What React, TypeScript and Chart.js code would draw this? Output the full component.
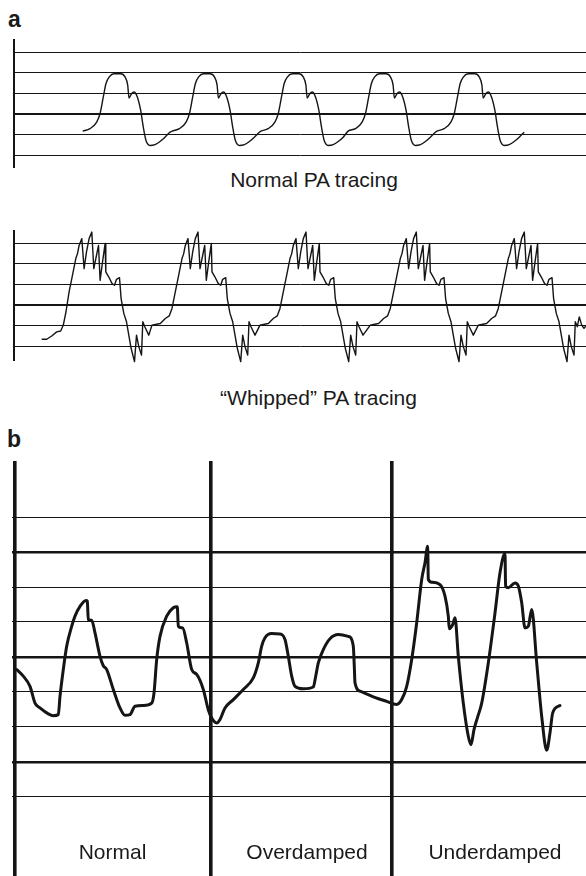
import React, { useEffect, useRef } from "react";
import { Chart, registerables } from "chart.js";

Chart.register(...registerables);

const INK = "#151515";
const FONT = '"Liberation Sans", Arial, Helvetica, sans-serif';

// ---------- Panel a: normal PA tracing (one recorded cycle, repeated at the read cycle starts)
const normalCycleTime = [0, 7.3, 14, 17.3, 20.6, 23.3, 26.6, 31.3, 38, 42.3, 45, 46.3, 49, 51.3, 54.6, 58, 60.6, 63.3, 67.3, 72.3, 77.3, 82.3, 87.3];
const normalCycleValue = [1.18, 1.3, 1.62, 2.02, 2.83, 3.48, 3.8, 3.95, 3.95, 3.8, 3.4, 2.78, 3.0, 3.07, 2.83, 2.18, 1.37, 0.73, 0.49, 0.53, 0.68, 0.89, 1.13];
const normalCycleStarts = [68.7, 158.1, 246.9, 334.1, 422.9];

// ---------- Panel a: "whipped" PA tracing
const whippedCycleTime = [-26.7, -23.4, -18.4, -13.4, -9.4, -6.7, -3.4, 0, 3.3, 5, 6.6, 9.3, 11.6, 14, 16.6, 19.3, 21.3, 24, 26, 27.6, 30, 32.6, 33.3, 36.3, 39.6, 42, 44, 47, 48.6, 51.3, 54, 56.3, 58.6, 62, 64, 66.3, 69, 70.3, 72.3, 76.3];
const whippedCycleValue = [1.02, 1.05, 1.1, 1.34, 1.47, 1.83, 2.64, 3.45, 4.26, 4.5, 4.9, 5.23, 3.77, 4.58, 5.23, 5.55, 3.77, 4.42, 4.9, 3.2, 4.09, 4.99, 3.61, 3.36, 3.04, 2.96, 3.25, 3.33, 2.31, 1.59, 1.18, 0.53, -0.11, -0.76, 0.53, -0.03, -0.44, 1.18, 0.94, 0.53];
const whippedAnchors = [58.5, 164.7, 272.7, 383, 491];
const whippedLeadTime = [27.7, 32.7, 37.7, 42.7, 46.7, 49.3, 52];
const whippedLeadValue = [0.33, 0.33, 0.49, 0.69, 0.73, 1.02, 1.67];
const whippedTailTime = [565.3, 567.7, 570, 574];
const whippedTailValue = [1.42, 1.02, 0.86, 1.12];

const stripTicks = [0, 1, 2, 3, 4, 5];
const stripMajorTicks = [2];

// ---------- Panel b: normal / overdamped / underdamped
const dampTime = [
  1.7, 8.3, 15, 20, 25, 33.3, 38.3, 43.3, 45, 48.3, 51.7, 56.7, 60, 65, 71, 72.3, 73.3, 76.7, 80, 85, 88.3, 91.7, 98.3, 105, 110, 115, 120, 128.3, 136.7, 139, 141.7, 145, 151.7, 158.3, 162.3, 163.3, 167.7, 171.7, 176.7, 181.7, 188.3, 193.3,
  196.7, 201.7, 205, 210, 218.3, 228.3, 238.3, 243.3, 246.7, 250, 256.7, 265, 270, 273.3, 276.7, 280, 288.3, 298.3, 300.7, 303.3, 308.3, 315, 323.3, 333.3, 338.3, 339.3, 340, 345, 358.3, 371.7, 381.7,
  386.7, 391.7, 396.7, 401.7, 406.7, 410, 412.7, 413.3, 416.7, 425, 430, 433.3, 434.3, 437.7, 440, 443.3, 448.3, 453.3, 456, 459, 462.3, 466.7, 473.3, 480, 485, 490, 490.6, 493.3, 500, 503.3, 506.7, 510, 513.3, 516.7, 521.7, 526.7, 531.7, 535, 537.7, 545,
];
const dampValue = [
  3.64, 3.45, 3.16, 2.68, 2.54, 2.37, 2.32, 2.35, 2.87, 3.64, 4.31, 4.88, 5.17, 5.45, 5.62, 5.6, 5.07, 5.05, 4.69, 4.02, 3.75, 3.64, 3.07, 2.54, 2.33, 2.35, 2.59, 2.61, 2.68, 2.97, 3.93, 4.59, 5.17, 5.41, 5.44, 4.88, 4.83, 4.4, 3.64, 3.5, 3.07, 2.49,
  2.25, 2.11, 2.21, 2.54, 2.78, 3.07, 3.4, 3.83, 4.31, 4.55, 4.67, 4.66, 4.5, 4.02, 3.45, 3.16, 3.09, 3.14, 3.45, 3.83, 4.21, 4.52, 4.64, 4.59, 4.31, 3.73, 3.26, 3.02, 2.86, 2.73, 2.64,
  2.78, 3.16, 3.93, 4.98, 6.22, 6.7, 7.17, 6.22, 6.14, 6.07, 5.74, 5.17, 4.81, 4.93, 5.12, 4.02, 2.68, 1.73, 1.49, 1.92, 2.25, 2.68, 3.83, 5.26, 6.41, 6.96, 6.03, 5.98, 6.12, 6.03, 5.55, 4.83, 4.88, 5.36, 3.83, 2.3, 1.33, 1.83, 2.4, 2.61,
];
const dampTicks = [0, 1, 2, 3, 4, 5, 6, 7, 8];
const dampMajorTicks = [1, 4, 7];
const sectionEdges = [0, 195.7, 376.7];
const sectionNames = ["Normal", "Overdamped", "Underdamped"];

type Pt = { x: number; y: number };

function buildNormal(): Pt[] {
  const pts: Pt[] = [];
  normalCycleStarts.forEach((start, i) => {
    const next = i + 1 < normalCycleStarts.length ? normalCycleStarts[i + 1] : Infinity;
    normalCycleTime.forEach((dt, j) => {
      const t = start + dt;
      if (t < next) pts.push({ x: t, y: normalCycleValue[j] });
    });
  });
  return pts;
}

function buildWhipped(): Pt[] {
  const pts: Pt[] = whippedLeadTime.map((t, i) => ({ x: t, y: whippedLeadValue[i] }));
  whippedAnchors.forEach((a, i) => {
    const prevEnd = pts[pts.length - 1].x;
    const limit = i === whippedAnchors.length - 1 ? whippedTailTime[0] : Infinity;
    whippedCycleTime.forEach((dt, j) => {
      const t = a + dt;
      if (t > prevEnd && t < limit) pts.push({ x: t, y: whippedCycleValue[j] });
    });
  });
  whippedTailTime.forEach((t, i) => pts.push({ x: t, y: whippedTailValue[i] }));
  return pts;
}

function buildDamp(): Pt[] {
  return dampTime.map((t, i) => ({ x: t, y: dampValue[i] }));
}

function stripConfig(points: Pt[], yMin: number, yMax: number, padBottom: number, tensionMode: "monotone" | "none"): any {
  return {
    type: "line",
    data: {
      datasets: [
        {
          data: points,
          borderColor: INK,
          borderWidth: 1.4,
          pointRadius: 0,
          fill: false,
          tension: tensionMode === "monotone" ? 0.4 : 0,
          cubicInterpolationMode: tensionMode === "monotone" ? "monotone" : "default",
          borderJoinStyle: "round",
          clip: false,
        },
      ],
    },
    options: {
      animation: false,
      responsive: false,
      events: [],
      layout: { padding: { left: 14, right: 0, top: 0, bottom: padBottom } },
      plugins: { legend: { display: false }, tooltip: { enabled: false }, title: { display: false } },
      scales: {
        x: { type: "linear", min: 0, max: 572, display: false },
        y: {
          type: "linear",
          min: yMin,
          max: yMax,
          grid: {
            color: INK,
            drawTicks: false,
            lineWidth: (ctx: any) => (ctx.tick && stripMajorTicks.includes(ctx.tick.value) ? 2 : 1),
          },
          ticks: { display: false },
          border: { display: true, color: INK, width: 2 },
          afterBuildTicks: (s: any) => {
            s.ticks = stripTicks.map((v) => ({ value: v }));
          },
          afterFit: (s: any) => {
            s.width = 0;
          },
        },
      },
    },
  };
}

function dampConfig(points: Pt[]): any {
  return {
    type: "line",
    data: {
      datasets: [
        {
          data: points,
          borderColor: INK,
          borderWidth: 3,
          pointRadius: 0,
          fill: false,
          cubicInterpolationMode: "monotone",
          borderJoinStyle: "round",
          borderCapStyle: "round",
        },
      ],
    },
    options: {
      animation: false,
      responsive: false,
      events: [],
      layout: { padding: { left: 12, right: 0, top: 0, bottom: 0 } },
      plugins: { legend: { display: false }, tooltip: { enabled: false }, title: { display: false } },
      scales: {
        x: {
          type: "linear",
          min: -3,
          max: 571,
          grid: { color: INK, lineWidth: 3.6, drawTicks: false },
          ticks: { display: false },
          border: { display: false },
          afterBuildTicks: (s: any) => {
            s.ticks = sectionEdges.map((v) => ({ value: v }));
          },
          afterFit: (s: any) => {
            s.height = 0;
          },
        },
        y: {
          type: "linear",
          min: -2.27,
          max: 9.61,
          grid: {
            color: INK,
            drawTicks: false,
            lineWidth: (ctx: any) => (ctx.tick && dampMajorTicks.includes(ctx.tick.value) ? 2.4 : 1.1),
          },
          ticks: { display: false },
          border: { display: false },
          afterBuildTicks: (s: any) => {
            s.ticks = dampTicks.map((v) => ({ value: v }));
          },
          afterFit: (s: any) => {
            s.width = 0;
          },
        },
      },
    },
  };
}

const labelBase: React.CSSProperties = {
  position: "absolute",
  fontFamily: FONT,
  color: "#1a1a1a",
  lineHeight: 1,
  whiteSpace: "nowrap",
  margin: 0,
};

function Label({ text, cx, top, size, bold }: { text: string; cx?: number; top: number; size: number; bold?: boolean; }) {
  return (
    <div
      style={{
        ...labelBase,
        left: cx,
        top,
        fontSize: size,
        fontWeight: bold ? 700 : 400,
        transform: "translateX(-50%)",
      }}
    >
      {text}
    </div>
  );
}

export default function App() {
  const normalRef = useRef<HTMLCanvasElement>(null);
  const whippedRef = useRef<HTMLCanvasElement>(null);
  const dampRef = useRef<HTMLCanvasElement>(null);

  useEffect(() => {
    const charts: Chart[] = [];
    if (normalRef.current) charts.push(new Chart(normalRef.current, stripConfig(buildNormal(), -0.6, 5.63, 0, "monotone")));
    if (whippedRef.current) charts.push(new Chart(whippedRef.current, stripConfig(buildWhipped(), -0.68, 5.65, 7, "none")));
    if (dampRef.current) charts.push(new Chart(dampRef.current, dampConfig(buildDamp())));
    return () => charts.forEach((c) => c.destroy());
  }, []);

  const canvasStyle = (top: number, h: number): React.CSSProperties => ({
    position: "absolute",
    left: 0,
    top,
    width: 586,
    height: h,
    display: "block",
  });

  const sectionCenters = [112.5, 307, 495];

  return (
    <div style={{ position: "absolute", left: 0, top: 0, width: 586, height: 876, overflow: "hidden", background: "#fff" }}>
      <canvas ref={normalRef} width={586} height={129} style={canvasStyle(39, 129)} />
      <canvas ref={whippedRef} width={586} height={137} style={canvasStyle(230, 137)} />
      <canvas ref={dampRef} width={586} height={415} style={canvasStyle(461, 415)} />

      <div style={{ ...labelBase, left: 8, top: 7.5, fontSize: 23, fontWeight: 700 }}>a</div>
      <Label text="Normal PA tracing" cx={314} top={169} size={21} />
      <Label text={"\u201CWhipped\u201D PA tracing"} cx={318.5} top={386.7} size={21} />
      <div style={{ ...labelBase, left: 7, top: 427.5, fontSize: 23, fontWeight: 700 }}>b</div>
      {sectionNames.map((name, i) => (
        <Label key={name} text={name} cx={sectionCenters[i]} top={840.7} size={21} />
      ))}
    </div>
  );
}
